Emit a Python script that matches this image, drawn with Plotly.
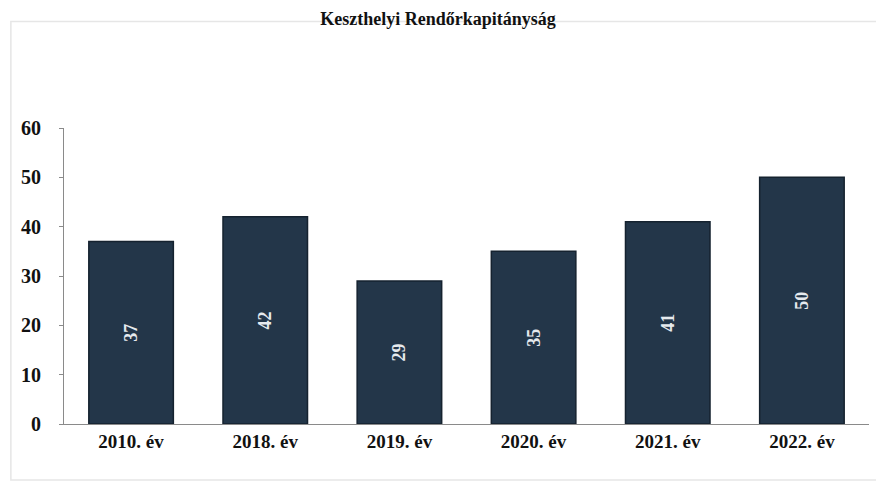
import plotly.graph_objects as go

categories = ["2010. év", "2018. év", "2019. év", "2020. év", "2021. év", "2022. év"]
values = [37, 42, 29, 35, 41, 50]
title_text = "Keszthelyi Rendőrkapitányság"

fig = go.Figure()
fig.add_trace(go.Bar(
    x=categories, y=values,
    text=[str(v) for v in values],
    textposition="inside", insidetextanchor="middle", textangle=-90,
    textfont=dict(family="Liberation Serif", size=18, color="#e6eaee", weight="bold"),
    marker=dict(color="#233649", line=dict(color="#15222f", width=1.5)),
))
fig.update_layout(
    width=876, height=484,
    paper_bgcolor="white", plot_bgcolor="white",
    margin=dict(l=64, r=7, t=128, b=60),
    bargap=0.37,
    showlegend=False,
    title=dict(text="<b>" + title_text + "</b>", x=0.5, xanchor="center",
               y=0.975, yanchor="top", yref="container", pad=dict(t=0, b=0),
               font=dict(family="Liberation Serif", size=18, color="#111")),
    font=dict(family="Liberation Serif", color="#111"),
    shapes=[dict(type="rect", xref="paper", yref="paper", x0=-0.066, x1=1.012, y0=-0.189, y1=1.36,
                 line=dict(color="#e6e6e6", width=1.5), layer="below")],
)
fig.update_xaxes(showline=True, linecolor="#8a8a8a", linewidth=1, ticks="", automargin=False,
                 tickfont=dict(family="Liberation Serif", size=19, color="#111", weight="bold"))
fig.update_yaxes(range=[0, 60], dtick=10, showgrid=False, zeroline=False, automargin=False,
                 showline=True, linecolor="#8a8a8a", linewidth=1, ticks="outside", ticklen=4,
                 tickcolor="#8a8a8a", ticklabelstandoff=14,
                 tickfont=dict(family="Liberation Serif", size=20, color="#111", weight="bold"))
fig.write_html("out.html", config={"displayModeBar": False},
               post_script="document.body.style.margin='0';document.body.style.overflow='hidden';")
